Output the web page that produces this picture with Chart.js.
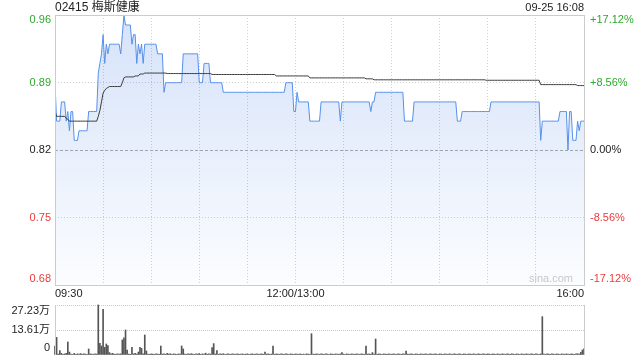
<!DOCTYPE html>
<html lang="zh-CN">
<head>
<meta charset="UTF-8" />
<title>02415 梅斯健康 分时</title>
<script src="https://cdn.jsdelivr.net/npm/chart.js"></script>
<style>
  body { margin: 0; background: #fff; }
  #wrap { position: relative; width: 640px; height: 360px; overflow: hidden; }
  #priceChart { position: absolute; left: 0; top: 0; }
  #volChart { position: absolute; left: 0; top: 298px; }
  .txt { position: absolute; top: 0; font: 12px "Liberation Sans", "Noto Sans CJK SC", sans-serif; line-height: 15px; color: #222; white-space: nowrap; }
  #title { left: 55px; }
  #stamp { right: 56px; font-size: 11px; }
</style>
</head>
<body>
<div id="wrap">
  <canvas id="priceChart" width="640" height="300"></canvas>
  <canvas id="volChart" width="640" height="62"></canvas>
  <div id="title" class="txt">02415 梅斯健康</div>
  <div id="stamp" class="txt">09-25 16:08</div>
</div>
<script>
// 昨收 & 坐标刻度
const prevClose = 0.82;
const pctTicks = [17.12, 8.56, 0, -8.56, -17.12];
const volTicks = [27.23, 13.61, 0]; // 单位: 万
const timeLabels = ["09:30", "12:00/13:00", "16:00"];
const timeLabelMinutes = [0, 150, 330];

// 每分钟价格 (09:30 - 16:00, 午休合并, 331 点)
const price = [
  0.89,0.85,0.85,0.85,0.87,0.87,0.87,0.85,0.86,0.84,
  0.86,0.86,0.83,0.83,0.83,0.84,0.84,0.84,0.84,0.84,
  0.84,0.86,0.86,0.86,0.86,0.86,0.86,0.90,0.91,0.92,
  0.94,0.91,0.93,0.92,0.93,0.93,0.93,0.93,0.93,0.93,
  0.93,0.92,0.94,0.96,0.95,0.95,0.95,0.95,0.93,0.94,
  0.94,0.91,0.93,0.92,0.93,0.91,0.93,0.93,0.93,0.93,
  0.93,0.93,0.93,0.93,0.92,0.92,0.92,0.92,0.88,0.89,
  0.89,0.89,0.89,0.89,0.89,0.89,0.89,0.89,0.89,0.89,
  0.92,0.92,0.92,0.92,0.92,0.92,0.92,0.92,0.92,0.92,
  0.89,0.89,0.89,0.91,0.91,0.91,0.91,0.89,0.89,0.89,
  0.89,0.89,0.89,0.89,0.89,0.88,0.88,0.88,0.88,0.88,
  0.88,0.88,0.88,0.88,0.88,0.88,0.88,0.88,0.88,0.88,
  0.88,0.88,0.88,0.88,0.88,0.88,0.88,0.88,0.88,0.88,
  0.88,0.88,0.88,0.88,0.88,0.88,0.88,0.88,0.88,0.88,
  0.88,0.88,0.88,0.88,0.89,0.89,0.89,0.89,0.89,0.86,
  0.86,0.88,0.87,0.87,0.87,0.87,0.87,0.87,0.87,0.85,
  0.85,0.85,0.85,0.85,0.85,0.85,0.87,0.87,0.87,0.87,
  0.87,0.87,0.87,0.87,0.87,0.87,0.87,0.87,0.85,0.87,
  0.87,0.87,0.87,0.87,0.87,0.87,0.87,0.87,0.87,0.87,
  0.87,0.87,0.87,0.87,0.87,0.87,0.87,0.86,0.87,0.87,
  0.88,0.88,0.88,0.88,0.88,0.88,0.88,0.88,0.88,0.88,
  0.88,0.88,0.88,0.88,0.88,0.88,0.88,0.88,0.85,0.85,
  0.85,0.85,0.85,0.85,0.87,0.87,0.87,0.87,0.87,0.87,
  0.87,0.87,0.87,0.87,0.87,0.87,0.87,0.87,0.87,0.87,
  0.87,0.87,0.87,0.87,0.87,0.87,0.87,0.87,0.87,0.87,
  0.87,0.85,0.85,0.85,0.86,0.86,0.86,0.86,0.86,0.86,
  0.86,0.86,0.86,0.86,0.86,0.86,0.86,0.86,0.86,0.86,
  0.86,0.86,0.87,0.87,0.87,0.87,0.87,0.87,0.87,0.87,
  0.87,0.87,0.87,0.87,0.87,0.87,0.87,0.87,0.87,0.87,
  0.87,0.87,0.87,0.87,0.87,0.87,0.87,0.87,0.87,0.87,
  0.87,0.87,0.87,0.83,0.85,0.85,0.85,0.85,0.85,0.85,
  0.85,0.85,0.85,0.85,0.85,0.86,0.86,0.86,0.86,0.86,
  0.82,0.86,0.86,0.83,0.83,0.83,0.85,0.84,0.85,0.85,
  0.85
];

// 均价线
const avgPrice = [
  0.860,0.855,0.855,0.855,0.855,0.855,0.855,0.853,0.852,0.850,
  0.850,0.850,0.850,0.850,0.850,0.850,0.850,0.850,0.850,0.850,
  0.850,0.850,0.850,0.850,0.850,0.850,0.850,0.855,0.861,0.870,
  0.879,0.882,0.884,0.885,0.886,0.886,0.886,0.886,0.886,0.886,
  0.886,0.886,0.890,0.895,0.896,0.896,0.896,0.896,0.896,0.896,
  0.897,0.897,0.897,0.899,0.899,0.899,0.900,0.900,0.900,0.900,
  0.900,0.900,0.900,0.900,0.900,0.900,0.900,0.900,0.900,0.900,
  0.8995,0.8995,0.8995,0.8995,0.8995,0.8995,0.8995,0.8995,0.8995,0.8995,
  0.8995,0.8995,0.8995,0.8995,0.8995,0.8995,0.8995,0.8995,0.8995,0.8995,
  0.8995,0.8995,0.8995,0.8995,0.8995,0.8995,0.8995,0.8995,0.8985,0.8985,
  0.8985,0.8985,0.8985,0.8985,0.8985,0.8985,0.8985,0.8985,0.8985,0.8985,
  0.8985,0.8985,0.8985,0.8985,0.8985,0.8985,0.8985,0.8985,0.8985,0.8985,
  0.8985,0.8985,0.8985,0.8985,0.8985,0.8985,0.8985,0.8985,0.8985,0.8985,
  0.8985,0.8985,0.8985,0.8985,0.8985,0.8985,0.8985,0.8985,0.897,0.897,
  0.897,0.897,0.897,0.897,0.897,0.897,0.897,0.897,0.897,0.897,
  0.897,0.897,0.897,0.897,0.897,0.897,0.897,0.897,0.897,0.895,
  0.895,0.895,0.895,0.895,0.895,0.895,0.895,0.895,0.895,0.895,
  0.895,0.895,0.895,0.895,0.895,0.895,0.895,0.895,0.895,0.895,
  0.895,0.895,0.895,0.895,0.895,0.895,0.895,0.895,0.895,0.895,
  0.895,0.895,0.895,0.895,0.894,0.894,0.894,0.894,0.894,0.893,
  0.893,0.893,0.893,0.893,0.893,0.893,0.893,0.893,0.893,0.893,
  0.893,0.893,0.893,0.893,0.893,0.893,0.893,0.893,0.893,0.893,
  0.893,0.893,0.893,0.893,0.893,0.893,0.893,0.893,0.893,0.893,
  0.893,0.893,0.893,0.893,0.893,0.893,0.893,0.893,0.893,0.893,
  0.893,0.893,0.893,0.893,0.893,0.893,0.893,0.893,0.893,0.893,
  0.893,0.893,0.893,0.893,0.893,0.893,0.893,0.893,0.893,0.893,
  0.893,0.893,0.893,0.893,0.893,0.893,0.893,0.893,0.893,0.8925,
  0.8925,0.8925,0.8925,0.8925,0.8925,0.8925,0.8925,0.8925,0.8925,0.8925,
  0.8925,0.8925,0.8925,0.8925,0.8925,0.8925,0.8925,0.8925,0.8925,0.8925,
  0.8925,0.8925,0.8925,0.8925,0.8925,0.8925,0.8925,0.8925,0.8925,0.8925,
  0.8925,0.8925,0.8925,0.888,0.888,0.888,0.888,0.888,0.888,0.888,
  0.888,0.888,0.888,0.888,0.888,0.888,0.888,0.888,0.888,0.888,
  0.888,0.888,0.888,0.888,0.888,0.888,0.887,0.887,0.887,0.887,
  0.887
];

// 成交量 (万股)
const volume = [
  4.9,9.6,0.5,2.4,0.9,0.4,0.6,0.9,7.1,1.6,
  0.5,0.3,0.9,0.4,0.6,0.5,0.8,0.4,0.6,0.5,
  0.4,3.3,0.6,0.5,0.4,0.6,0.5,27.23,6.4,4.9,
  24.9,4.2,6.0,5.1,1.3,0.6,0.9,0.4,0.5,0.6,
  0.5,0.6,8.2,9.3,13.6,2.7,0.5,0.4,4.2,0.6,
  0.9,0.5,1.6,4.2,3.6,0.6,10.9,2.2,0.5,0.4,
  0.6,0.5,0.4,0.6,0.5,0.4,4.9,0.5,0.6,0.4,
  0.9,0.5,0.7,0.4,0.6,0.5,0.4,0.6,0.5,4.9,
  3.3,0.5,0.4,0.6,0.5,0.7,0.5,0.4,0.6,0.5,
  0.8,0.4,0.6,0.5,1.0,0.4,0.6,0.5,4.0,6.2,
  0.5,2.4,0.4,0.6,0.5,0.7,0.4,0.5,0.6,0.4,
  0.5,0.6,0.4,0.5,0.6,0.4,0.5,0.6,0.4,0.5,
  0.6,0.4,0.5,0.6,0.4,0.5,0.6,0.4,0.5,0.6,
  0.4,1.6,0.5,0.6,0.4,0.5,4.9,0.4,0.6,0.5,
  0.4,0.6,0.5,0.4,0.6,0.5,0.4,0.6,0.5,0.4,
  0.6,0.5,0.4,0.6,0.3,0.5,0.4,0.6,0.5,0.4,
  11.6,0.5,0.4,0.6,0.5,0.4,0.6,0.5,0.4,0.6,
  0.5,0.4,0.6,0.5,0.4,0.6,0.5,0.4,0.6,1.3,
  0.5,0.4,0.6,0.5,0.4,0.6,0.5,0.4,0.6,0.5,
  0.4,0.6,0.5,0.4,4.9,0.5,0.6,0.4,1.3,0.5,
  8.7,0.4,0.6,0.5,0.4,0.6,0.5,0.4,0.6,0.5,
  0.4,0.6,0.5,0.4,0.6,0.5,0.4,0.6,0.5,2.2,
  0.5,0.4,0.6,0.5,0.4,0.6,0.5,0.4,0.6,0.5,
  0.4,0.6,0.5,0.4,0.6,0.5,0.4,0.6,0.5,0.4,
  0.6,0.5,0.4,0.6,0.5,0.4,0.6,0.5,0.4,0.6,
  0.5,0.4,0.6,0.5,0.4,0.6,0.5,0.4,0.6,0.5,
  0.4,0.6,0.5,0.4,0.6,0.5,0.4,0.6,0.5,0.4,
  0.6,0.5,0.4,0.6,0.5,0.4,0.6,0.5,0.4,0.6,
  0.5,0.4,0.6,0.5,0.4,0.6,0.5,0.4,0.6,0.5,
  0.4,0.6,0.5,0.4,0.6,0.5,0.4,0.6,0.5,0.4,
  0.6,0.5,0.4,0.6,20.9,0.5,0.4,0.6,0.5,0.4,
  0.6,0.5,0.4,0.6,0.5,0.4,0.6,0.5,0.4,0.6,
  0.5,0.4,0.6,0.5,0.4,0.6,0.7,0.5,1.5,2.7,
  3.3
];

const GREEN = "#2ea82e";
const RED = "#ec3b3b";
const FONT = '11px "Liberation Sans", "Noto Sans CJK SC", sans-serif';
const lastMinute = price.length - 1;

// 价格图: 边框, 昨收虚线, 坐标文字
const priceDeco = {
  id: "priceDeco",
  beforeDatasetsDraw(chart) {
    const { ctx, chartArea: a, scales } = chart;
    const yy = Math.round(scales.y.getPixelForValue(prevClose)) + 0.5;
    ctx.save();
    ctx.strokeStyle = "#aaa";
    ctx.lineWidth = 1;
    ctx.setLineDash([3, 2]);
    ctx.beginPath();
    ctx.moveTo(a.left, yy);
    ctx.lineTo(a.right, yy);
    ctx.stroke();
    ctx.restore();
  },
  afterDraw(chart) {
    const { ctx, chartArea: a, scales } = chart;
    ctx.save();
    ctx.strokeStyle = "#ccc";
    ctx.lineWidth = 1;
    ctx.strokeRect(Math.round(a.left) + 0.5, Math.round(a.top) + 0.5,
      Math.round(a.right - a.left), Math.round(a.bottom - a.top));

    ctx.font = FONT;
    ctx.textBaseline = "middle";
    pctTicks.forEach((p, i) => {
      const v = prevClose * (1 + p / 100);
      let py = scales.y.getPixelForValue(v);
      if (i === 0) py += 5;
      if (i === pctTicks.length - 1) py -= 6;
      ctx.fillStyle = p > 0 ? GREEN : p < 0 ? RED : "#222";
      ctx.textAlign = "right";
      ctx.fillText(v.toFixed(2), a.left - 4, py);
      ctx.textAlign = "left";
      ctx.fillText((p > 0 ? "+" : "") + p.toFixed(2) + "%", a.right + 6, py);
    });

    ctx.fillStyle = "#222";
    timeLabels.forEach((t, i) => {
      const m = timeLabelMinutes[i];
      ctx.textAlign = m === 0 ? "left" : m === lastMinute ? "right" : "center";
      ctx.fillText(t, scales.x.getPixelForValue(m), a.bottom + 9);
    });

    ctx.fillStyle = "#c8c8c8";
    ctx.textAlign = "right";
    ctx.fillText("sina.com", a.right - 11, a.bottom - 6);
    ctx.restore();
  },
};

// 成交量图: 两侧边线和刻度文字
const volDeco = {
  id: "volDeco",
  afterDraw(chart) {
    const { ctx, chartArea: a, scales } = chart;
    ctx.save();
    ctx.strokeStyle = "#ccc";
    ctx.lineWidth = 1;
    ctx.beginPath();
    ctx.moveTo(Math.round(a.left) + 0.5, a.top);
    ctx.lineTo(Math.round(a.left) + 0.5, a.bottom);
    ctx.moveTo(Math.round(a.right) + 0.5, a.top);
    ctx.lineTo(Math.round(a.right) + 0.5, a.bottom);
    ctx.stroke();

    ctx.font = FONT;
    ctx.textBaseline = "middle";
    ctx.textAlign = "right";
    ctx.fillStyle = "#222";
    volTicks.forEach((v, i) => {
      let py = scales.y.getPixelForValue(v);
      if (i === 0) py += 6;
      if (i === volTicks.length - 1) py -= 7;
      ctx.fillText(v === 0 ? "0" : v.toFixed(2) + "万", a.left - 5, py);
    });
    ctx.restore();
  },
};

const noSize = (axis) => (scale) => { scale[axis] = 0; };

new Chart(document.getElementById("priceChart"), {
  type: "line",
  data: {
    datasets: [
      {
        label: "价格",
        data: price.map((v, i) => ({ x: i, y: v })),
        borderColor: "#5590eb",
        borderWidth: 1,
        pointRadius: 0,
        fill: "start",
        backgroundColor: (c) => {
          const area = c.chart.chartArea;
          if (!area) return "rgba(60,120,230,0.1)";
          const g = c.chart.ctx.createLinearGradient(0, area.top, 0, area.bottom);
          g.addColorStop(0, "rgba(60,120,230,0.21)");
          g.addColorStop(1, "rgba(60,120,230,0.02)");
          return g;
        },
        order: 2,
      },
      {
        label: "均价",
        data: avgPrice.map((v, i) => ({ x: i, y: v })),
        borderColor: "#3a3a3a",
        borderWidth: 1,
        pointRadius: 0,
        fill: false,
        order: 1,
      },
    ],
  },
  options: {
    responsive: false,
    animation: false,
    layout: { padding: { left: 55, right: 56, top: 15, bottom: 15 } },
    plugins: { legend: { display: false }, tooltip: { enabled: false } },
    scales: {
      x: {
        type: "linear",
        min: 0,
        max: lastMinute,
        ticks: { display: false, stepSize: 30 },
        grid: { color: "#d0d0d0", drawTicks: false },
        border: { display: false, dash: [1, 2] },
        afterFit: noSize("height"),
      },
      y: {
        min: prevClose * (1 - pctTicks[0] / 100),
        max: prevClose * (1 + pctTicks[0] / 100),
        afterBuildTicks: (s) => {
          s.ticks = pctTicks.map((p) => ({ value: prevClose * (1 + p / 100) }));
        },
        ticks: { display: false },
        grid: {
          color: (c) => (c.tick && Math.abs(c.tick.value - prevClose) < 1e-6 ? "rgba(0,0,0,0)" : "#d0d0d0"),
          drawTicks: false,
        },
        border: { display: false, dash: [1, 2] },
        afterFit: noSize("width"),
      },
    },
  },
  plugins: [priceDeco],
});

new Chart(document.getElementById("volChart"), {
  type: "bar",
  data: {
    datasets: [
      {
        label: "成交量",
        data: volume.map((v, i) => ({ x: i, y: v })),
        backgroundColor: "#555",
        barThickness: 1,
        clip: 2,
      },
    ],
  },
  options: {
    responsive: false,
    animation: false,
    layout: { padding: { left: 55, right: 56, top: 7, bottom: 5 } },
    plugins: { legend: { display: false }, tooltip: { enabled: false } },
    scales: {
      x: {
        type: "linear",
        min: 0,
        max: lastMinute,
        offset: false,
        ticks: { display: false },
        grid: { display: false, offset: false },
        border: { display: false },
        afterFit: noSize("height"),
      },
      y: {
        min: 0,
        max: volTicks[0],
        afterBuildTicks: (s) => {
          s.ticks = volTicks.map((v) => ({ value: v }));
        },
        ticks: { display: false },
        grid: {
          color: (c) => (c.tick && c.tick.value === 0 ? "rgba(0,0,0,0)" : "#c8c8c8"),
          drawTicks: false,
        },
        border: { display: false, dash: [1, 1] },
        afterFit: noSize("width"),
      },
    },
  },
  plugins: [volDeco],
});
</script>
</body>
</html>
